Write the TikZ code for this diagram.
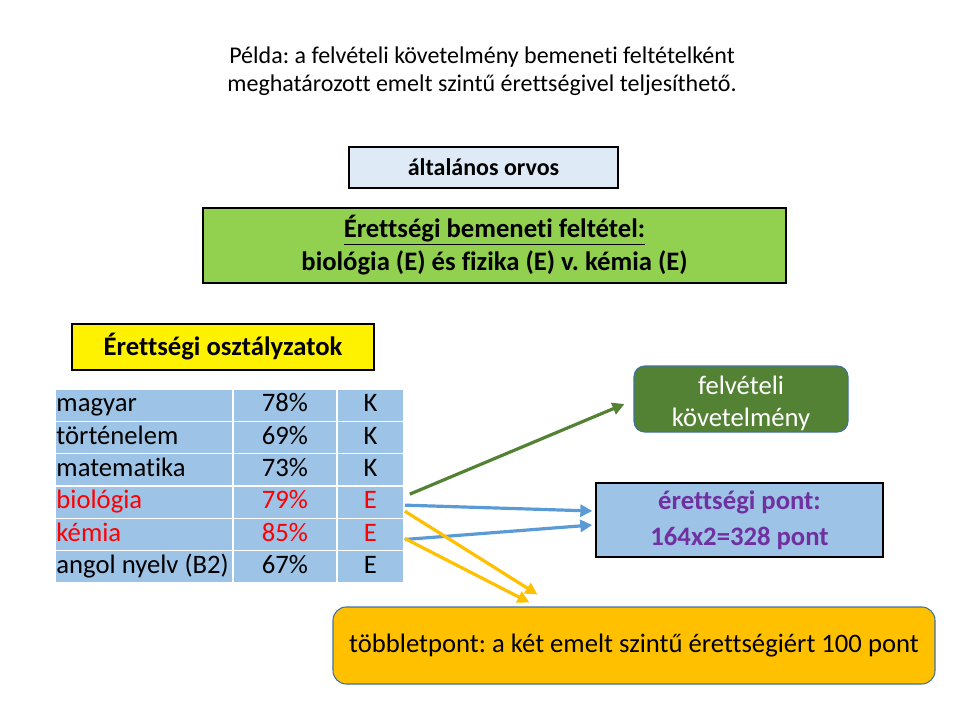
\documentclass[tikz,border=0pt]{standalone}
\usepackage{fontspec}
\setmainfont{Carlito}[Ligatures=NoCommon]
\frenchspacing
\usetikzlibrary{arrows.meta,calc}
\definecolor{lightbox}{HTML}{DEEBF7}
\definecolor{limegreen}{HTML}{92D050}
\definecolor{tabblue}{HTML}{9DC3E6}
\definecolor{darkgreen}{HTML}{548235}
\definecolor{borderblue}{HTML}{41719C}
\definecolor{arrowblue}{HTML}{5B9BD5}
\definecolor{gold}{HTML}{FFC000}
\definecolor{purp}{HTML}{7030A0}
\tikzset{
  sqbox/.style={draw=black, line width=1pt, inner sep=0pt, align=center},
  rbox/.style={draw=borderblue, line width=0.8pt, rounded corners=8pt, inner sep=0pt, align=center},
  cell/.style={fill=tabblue, draw=white, line width=1.2pt, inner sep=0pt, minimum height=24.25pt,
    text height=14pt, text depth=4pt, font=\fontsize{20}{24}\selectfont},
  namecell/.style={cell, minimum width=133.5pt},
  celltext/.style={inner sep=1.5pt, anchor=west, text height=14pt, text depth=4pt, font=\fontsize{20}{24}\selectfont},
  pctcell/.style={cell, minimum width=78pt, align=center},
  lvlcell/.style={cell, minimum width=50.25pt, align=center},
  arr/.style={line width=2.4pt, -{Triangle[length=9pt,width=9pt]}},
}
\begin{document}
\begin{tikzpicture}[x=0.75pt,y=-0.75pt]
\useasboundingbox (0,0) rectangle (960,720);
\node[align=center, font=\fontsize{18}{21}\selectfont] (title) at (482,71)
  {Példa: a felvételi követelmény bemeneti feltételként\\meghatározott emelt szintű érettségivel teljesíthető.};
\node[sqbox, fill=lightbox, minimum width=201.75pt, minimum height=30.75pt,
  font=\fontsize{18}{22}\selectfont\bfseries] (orvos) at (483.5,167.5) {általános orvos};
\node[sqbox, fill=limegreen, minimum width=437.25pt, minimum height=56.25pt,
  font=\fontsize{20}{24.75}\selectfont\bfseries] (felt) at (494.5,245.5)
  {\underline{Érettségi bemeneti feltétel:}\\biológia (E) és fizika (E) v. kémia (E)};
\node[sqbox, fill=yellow, minimum width=226.5pt, minimum height=34.5pt,
  font=\fontsize{20}{24}\selectfont\bfseries] (oszt) at (223,347) {Érettségi osztályzatok};
\foreach \i/\a/\b/\c/\col in {1/magyar/78\%/K/black, 2/történelem/69\%/K/black,
  3/matematika/73\%/K/black, 4/biológia/79\%/E/red, 5/kémia/85\%/E/red,
  6/angol nyelv (B2)/67\%/E/black}{
  \node[namecell] (n\i) at (144,{389+32.33*(\i-0.5)}) {};
  \node[celltext, text=\col] (t\i) at (n\i.west) {\a};
  \node[pctcell, text=\col] (p\i) at (285,{389+32.33*(\i-0.5)}) {\b};
  \node[lvlcell, text=\col] (e\i) at (370.5,{389+32.33*(\i-0.5)}) {\c};
}
\node[rbox, fill=darkgreen, minimum width=160.5pt, minimum height=49.5pt] (felv) at (741,399) {};
\node[align=center, text=white, font=\fontsize{20}{24}\selectfont] (felvt) at ($(felv.center)+(0,4.5)$) {felvételi\\követelmény};
\node[sqbox, fill=tabblue, text=purp, minimum width=215.25pt, minimum height=55.5pt,
  font=\fontsize{20}{27}\selectfont\bfseries] (pont) at (739.5,520) {érettségi pont:\\164x2=328 pont};
\node[rbox, fill=gold, rounded corners=10pt, minimum width=451.5pt, minimum height=57.75pt,
  font=\fontsize{20}{24}\selectfont] (tobb) at (634,645.5) {többletpont: a két emelt szintű érettségiért 100 pont};
% connector end points
\coordinate (gS) at ($(e4.east)+(5,-8)$);
\coordinate (gE) at ($(felv.west)+(-9,5)$);
\coordinate (b1S) at ($(e4.east)+(0,3)$);
\coordinate (b1E) at ($(pont.west)+(-3,-9)$);
\coordinate (b2S) at ($(e5.east)+(0,5)$);
\coordinate (b2E) at ($(pont.west)+(-3,5)$);
\coordinate (y1S) at ($(e4.east)+(0,9)$);
\coordinate (y1E) at ($(tobb.north west)+(205,-12)$);
\coordinate (y2S) at ($(e5.east)+(0,4)$);
\coordinate (y2E) at ($(tobb.north west)+(197,-4)$);
\draw[arr, darkgreen] (gS) -- (gE);
\draw[arr, arrowblue] (b1S) -- (b1E);
\draw[arr, arrowblue] (b2S) -- (b2E);
\draw[arr, gold] (y1S) -- (y1E);
\draw[arr, gold] (y2S) -- (y2E);
\end{tikzpicture}
\end{document}
